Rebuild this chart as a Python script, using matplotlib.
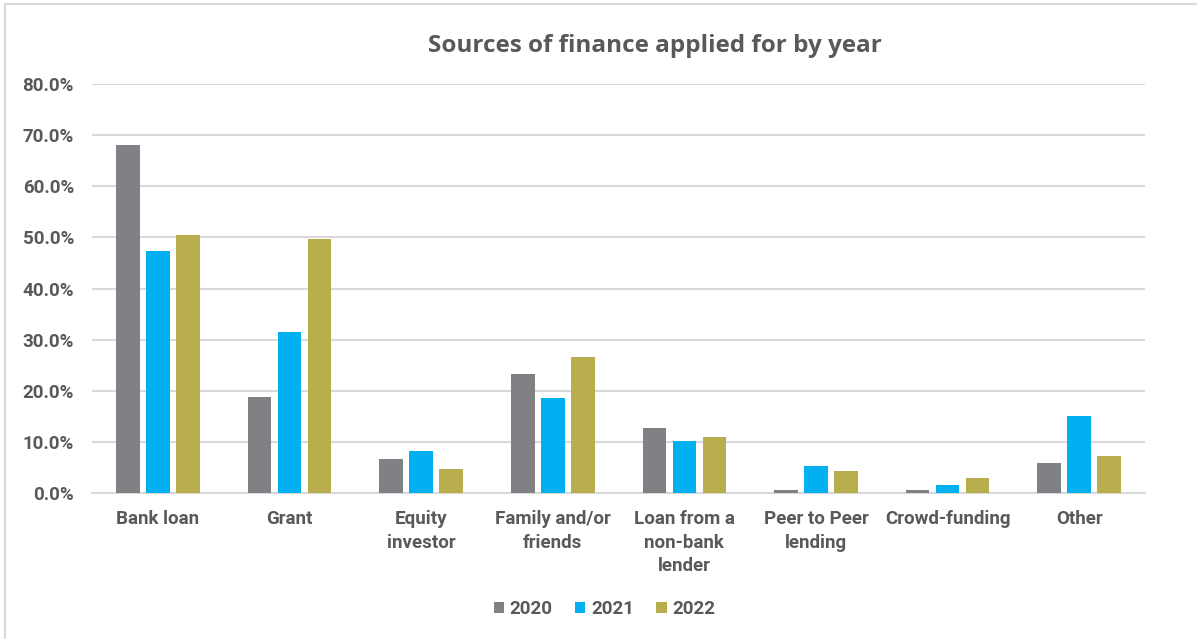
import matplotlib
matplotlib.use("Agg")
import matplotlib.pyplot as plt
from matplotlib.lines import Line2D
import numpy as np

categories = ["Bank loan", "Grant", "Equity\ninvestor", "Family and/or\nfriends",
              "Loan from a\nnon-bank\nlender", "Peer to Peer\nlending", "Crowd-funding", "Other"]
years = ["2020", "2021", "2022"]
pct_2020 = [68.0, 18.8, 6.6, 23.3, 12.7, 0.6, 0.6, 5.8]
pct_2021 = [47.4, 31.5, 8.2, 18.6, 10.2, 5.2, 1.6, 15.0]
pct_2022 = [50.5, 49.7, 4.7, 26.6, 11.0, 4.3, 2.9, 7.2]
yticks = [0, 10, 20, 30, 40, 50, 60, 70, 80]

colors = ["#808184", "#00B0F0", "#B9AE4E"]
text_color = "#595959"
grid_color = "#D9D9D9"

plt.rcParams["font.family"] = ["Roboto", "DejaVu Sans"]

fig = plt.figure(figsize=(11.97, 6.39), dpi=100)
ax = fig.add_axes([0.0769, 0.2285, 0.8797, 0.640])

x = np.arange(len(categories))
width = 0.18
step = 0.228
for i, (vals, year) in enumerate(zip([pct_2020, pct_2021, pct_2022], years)):
    ax.bar(x + (i - 1) * step, vals, width, color=colors[i], label=year, zorder=3)

ax.set_xlim(-0.5, len(categories) - 0.5)
ax.set_ylim(0, 80)
ax.set_yticks(yticks)
ax.set_yticklabels([f"{v:.1f}%" for v in yticks], fontsize=13.5, fontweight="bold",
                   color=text_color)
ax.set_xticks(x)
ax.set_xticklabels(categories, fontsize=13.5, fontweight="bold", color=text_color,
                   linespacing=1.42, va="top")
ax.tick_params(axis="both", length=0)
ax.tick_params(axis="y", pad=13)
ax.tick_params(axis="x", pad=12)
ax.yaxis.grid(True, color=grid_color, linewidth=1.5, zorder=0)
for side in ["top", "right", "left"]:
    ax.spines[side].set_visible(False)
ax.spines["bottom"].set_color(grid_color)
ax.spines["bottom"].set_linewidth(1.5)

fig.text(0.547, 0.928, "Sources of finance applied for by year", ha="center", va="center",
         fontsize=17.5, fontweight="bold", color=text_color,
         family=["Open Sans", "DejaVu Sans"])

leg = fig.legend(loc="center", bbox_to_anchor=(0.505, 0.047), ncol=3, frameon=False,
                 handlelength=0.55, handleheight=0.55, handletextpad=0.3,
                 columnspacing=1.2, prop={"weight": "bold", "size": 13.5})
for t in leg.get_texts():
    t.set_color(text_color)

# thin frame along the top and left edges
fig.add_artist(Line2D([0.004, 0.004], [0.0, 0.993], color=grid_color, linewidth=1.5))
fig.add_artist(Line2D([0.004, 1.0], [0.993, 0.993], color=grid_color, linewidth=1.5))

fig.savefig("out.png", dpi=100)
